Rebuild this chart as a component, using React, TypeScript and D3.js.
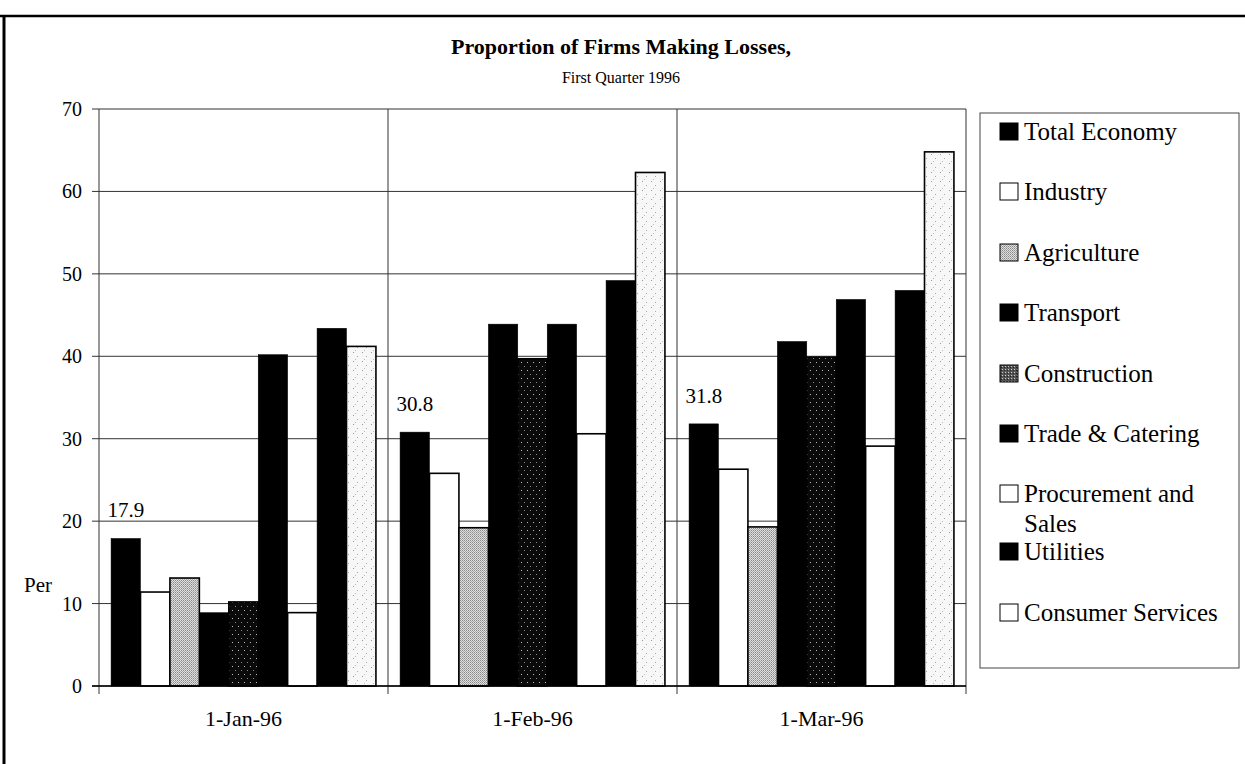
import React from "react";
import * as d3 from "d3";

const categories = ["1-Jan-96", "1-Feb-96", "1-Mar-96"];
const seriesNames = [
  "Total Economy",
  "Industry",
  "Agriculture",
  "Transport",
  "Construction",
  "Trade & Catering",
  "Procurement and Sales",
  "Utilities",
  "Consumer Services",
];
const totalEconomy = [17.9, 30.8, 31.8];
const industry = [11.4, 25.8, 26.3];
const agriculture = [13.1, 19.2, 19.3];
const transport = [8.9, 43.9, 41.8];
const construction = [10.2, 39.7, 39.9];
const tradeCatering = [40.2, 43.9, 46.9];
const procurementSales = [8.9, 30.6, 29.1];
const utilities = [43.4, 49.2, 48.0];
const consumerServices = [41.2, 62.3, 64.8];
const yTicks = [0, 10, 20, 30, 40, 50, 60, 70];
const totalLabels = ["17.9", "30.8", "31.8"];

const seriesValues = [
  totalEconomy,
  industry,
  agriculture,
  transport,
  construction,
  tradeCatering,
  procurementSales,
  utilities,
  consumerServices,
];

const fills = [
  "#000",
  "#fff",
  "url(#agri)",
  "#000",
  "url(#constr)",
  "#000",
  "#fff",
  "#000",
  "url(#consumer)",
];
const legendFills = [
  "#000",
  "#fff",
  "url(#agri)",
  "#000",
  "url(#constrLegend)",
  "#000",
  "#fff",
  "#000",
  "#fff",
];

const FONT = "'Liberation Serif', 'Times New Roman', serif";

export default function App() {
  const W = 1245;
  const H = 764;
  const plot = { left: 99, right: 966, top: 109, bottom: 686 };

  const y = d3.scaleLinear().domain([0, 70]).range([plot.bottom, plot.top]);
  const x0 = d3
    .scaleBand<string>()
    .domain(categories)
    .range([plot.left, plot.right])
    .paddingInner(0)
    .paddingOuter(0);
  const x1 = d3
    .scaleBand<string>()
    .domain(seriesNames)
    .range([0, x0.bandwidth()])
    .paddingInner(0)
    .paddingOuter(0.41);

  const legendX = 980;
  const legendY = 113;
  const legendW = 259;
  const legendH = 555;
  const legendBaselines = [140, 200, 261, 321, 382, 442, 502, 560, 621];

  return (
    <svg
      width={W}
      height={H}
      style={{ position: "absolute", left: 0, top: 0, background: "#fff" }}
      fontFamily={FONT}
    >
      <defs>
        <pattern id="agri" width="2" height="2" patternUnits="userSpaceOnUse">
          <rect width="2" height="2" fill="#dedede" />
          <rect x="0" y="0" width="1" height="1" fill="#8a8a8a" />
          <rect x="1" y="1" width="1" height="1" fill="#a8a8a8" />
        </pattern>
        <pattern id="constr" width="6" height="8" patternUnits="userSpaceOnUse">
          <rect width="6" height="8" fill="#0a0a0a" />
          <rect x="1" y="2" width="1" height="1" fill="#bbb" />
          <rect x="4" y="6" width="1" height="1" fill="#888" />
        </pattern>
        <pattern id="constrLegend" width="3" height="3" patternUnits="userSpaceOnUse">
          <rect width="3" height="3" fill="#555" />
          <rect x="0" y="0" width="1" height="1" fill="#ccc" />
          <rect x="2" y="1" width="1" height="1" fill="#222" />
        </pattern>
        <pattern id="consumer" width="9" height="9" patternUnits="userSpaceOnUse">
          <rect width="9" height="9" fill="#f7f7f7" />
          <rect x="2" y="1" width="1" height="1" fill="#999" />
          <rect x="6" y="5" width="1" height="1" fill="#aaa" />
          <rect x="4" y="8" width="1" height="1" fill="#bbb" />
        </pattern>
      </defs>

      {/* outer frame */}
      <line x1={0} x2={W} y1={16} y2={16} stroke="#000" strokeWidth={2.5} />
      <line x1={4} x2={4} y1={15} y2={H} stroke="#000" strokeWidth={3} />

      {/* titles */}
      <text x={621} y={54} textAnchor="middle" fontWeight="bold" fontSize={22}>
        Proportion of Firms Making Losses,
      </text>
      <text x={621} y={83} textAnchor="middle" fontSize={16}>
        First Quarter 1996
      </text>

      {/* gridlines */}
      {yTicks.map((t) => (
        <g key={t}>
          <line
            x1={plot.left}
            x2={plot.right}
            y1={y(t)}
            y2={y(t)}
            stroke="#333"
            strokeWidth={1}
          />
          <line
            x1={plot.left - 7}
            x2={plot.left}
            y1={y(t)}
            y2={y(t)}
            stroke="#333"
            strokeWidth={1}
          />
          <text
            x={plot.left - 17}
            y={y(t) + 7}
            textAnchor="end"
            fontSize={20}
          >
            {t}
          </text>
        </g>
      ))}

      {/* category boundaries */}
      {categories.map((c) => (
        <line
          key={c}
          x1={(x0(c) as number) + x0.bandwidth()}
          x2={(x0(c) as number) + x0.bandwidth()}
          y1={plot.top}
          y2={plot.bottom + 8}
          stroke="#333"
          strokeWidth={1}
        />
      ))}
      <line
        x1={plot.left}
        x2={plot.left}
        y1={plot.top}
        y2={plot.bottom + 8}
        stroke="#333"
        strokeWidth={1}
      />

      {/* bars */}
      {categories.map((c, ci) => (
        <g key={c} transform={`translate(${x0(c)},0)`}>
          {seriesNames.map((s, si) => {
            const v = seriesValues[si][ci];
            const bx = x1(s) as number;
            const light = fills[si] !== "#000";
            return (
              <rect
                key={s}
                x={bx}
                y={y(v)}
                width={x1.bandwidth()}
                height={y(0) - y(v)}
                fill={fills[si]}
                stroke="#000"
                strokeWidth={light ? 1.6 : 0.5}
              />
            );
          })}
          <text
            x={(x1(seriesNames[0]) as number) + x1.bandwidth() / 2}
            y={y(totalEconomy[ci]) - 21}
            textAnchor="middle"
            fontSize={21}
          >
            {totalLabels[ci]}
          </text>
          <text
            x={x0.bandwidth() / 2}
            y={726}
            textAnchor="middle"
            fontSize={22}
          >
            {c}
          </text>
        </g>
      ))}

      {/* baseline */}
      <line
        x1={plot.left - 7}
        x2={plot.right}
        y1={plot.bottom}
        y2={plot.bottom}
        stroke="#000"
        strokeWidth={1.5}
      />

      {/* y axis title */}
      <text x={24} y={592} fontSize={21}>
        Per
      </text>

      {/* legend */}
      <rect
        x={legendX}
        y={legendY}
        width={legendW}
        height={legendH}
        fill="#fff"
        stroke="#444"
        strokeWidth={1}
      />
      {seriesNames.map((s, i) => {
        const by = legendBaselines[i];
        const lines =
          s === "Procurement and Sales" ? ["Procurement and", "Sales"] : [s];
        return (
          <g key={s}>
            <rect
              x={1000}
              y={by - 17}
              width={18}
              height={17}
              fill={legendFills[i]}
              stroke="#000"
              strokeWidth={1}
            />
            {lines.map((l, li) => (
              <text key={l} x={1024} y={by + li * 30} fontSize={25}>
                {l}
              </text>
            ))}
          </g>
        );
      })}
    </svg>
  );
}
